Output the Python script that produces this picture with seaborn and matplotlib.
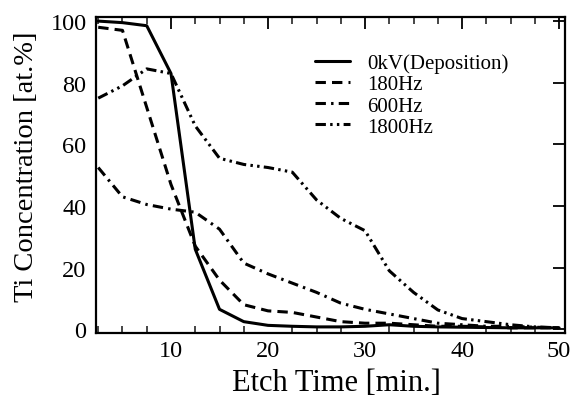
import matplotlib
matplotlib.use("Agg")
import matplotlib.pyplot as plt
from matplotlib.ticker import MultipleLocator
import seaborn as sns
import pandas as pd

# Etch time grid (min.)
etch_time = [2.5, 5, 7.5, 10, 12.5, 15, 17.5, 20, 22.5, 25, 27.5, 30,
             32.5, 35, 37.5, 40, 42.5, 45, 47.5, 50]

# Ti concentration [at.%] for each bias condition
ti_0kv = [100, 99.5, 98.5, 83, 26, 6.5, 2.5, 1.3, 1.0, 0.8, 0.8, 1.0,
          1.5, 1.0, 0.8, 0.7, 0.6, 0.5, 0.5, 0.5]
ti_180hz = [98, 97, 72, 47, 27, 16, 8, 6, 5.5, 4, 2.5, 2,
            2, 1.5, 1, 1, 0.8, 0.5, 0.5, 0.5]
ti_600hz = [52.5, 43, 40.5, 39, 38, 32.5, 21.5, 18, 15, 12, 8.5, 6.5,
            5, 3.5, 2, 1.5, 1, 1, 0.7, 0.5]
ti_1800hz = [75, 79, 84.5, 83, 66, 55.5, 53.5, 52.5, 51, 42, 36, 32,
             19, 12, 6.3, 3.5, 2.5, 1.5, 0.8, 0.5]

series_names = ["0kV(Deposition)", "180Hz", "600Hz", "1800Hz"]
series_values = [ti_0kv, ti_180hz, ti_600hz, ti_1800hz]
line_styles = ["-", (0, (3.4, 2.0)), (0, (3.4, 1.7, 0.8, 1.7)),
               (0, (3.4, 1.4, 0.8, 1.4, 0.8, 1.4))]

sns.set_style("white")
plt.rcParams["font.family"] = ["Liberation Serif", "DejaVu Serif"]

fig = plt.figure(figsize=(5.8, 4.02), dpi=100)
ax = fig.add_axes([0.166, 0.169, 0.808, 0.786])

for name, vals, ls in zip(series_names, series_values, line_styles):
    df = pd.DataFrame({"Etch Time": etch_time, "Ti": vals})
    sns.lineplot(data=df, x="Etch Time", y="Ti", ax=ax, color="black",
                 linewidth=2.2, linestyle=ls, label=name)

ax.set_xlim(2.3, 50.6)
ax.set_ylim(-1.2, 101.3)
ax.xaxis.set_major_locator(MultipleLocator(10))
ax.xaxis.set_minor_locator(MultipleLocator(2.5))
ax.yaxis.set_major_locator(MultipleLocator(20))

ax.tick_params(axis="both", which="major", direction="in", length=8.5,
               width=1.3, top=True, right=True, labelsize=17.5, color="black",
               labelcolor="black")
ax.tick_params(axis="x", which="major", pad=5)
ax.tick_params(axis="y", which="major", pad=7)
ax.tick_params(axis="x", which="minor", direction="in", length=5,
               width=1.2, top=True, bottom=True)
for sp in ax.spines.values():
    sp.set_color("black")
    sp.set_linewidth(1.6)

ax.set_xlabel("Etch Time [min.]", fontsize=22, color="black")
ax.set_ylabel("Ti Concentration [at.%]", fontsize=20.5, color="black")
ax.xaxis.label.set_va("center")
ax.yaxis.label.set_va("center")
ax.xaxis.set_label_coords(0.513, -0.155)
ax.yaxis.set_label_coords(-0.148, 0.53)

leg = ax.legend(loc="upper left", bbox_to_anchor=(0.44, 0.925), frameon=False,
                fontsize=15, handlelength=1.7, handletextpad=0.8,
                labelspacing=0.08, borderaxespad=0.2)
for t in leg.get_texts():
    t.set_color("black")

fig.savefig("out.png", dpi=100)
